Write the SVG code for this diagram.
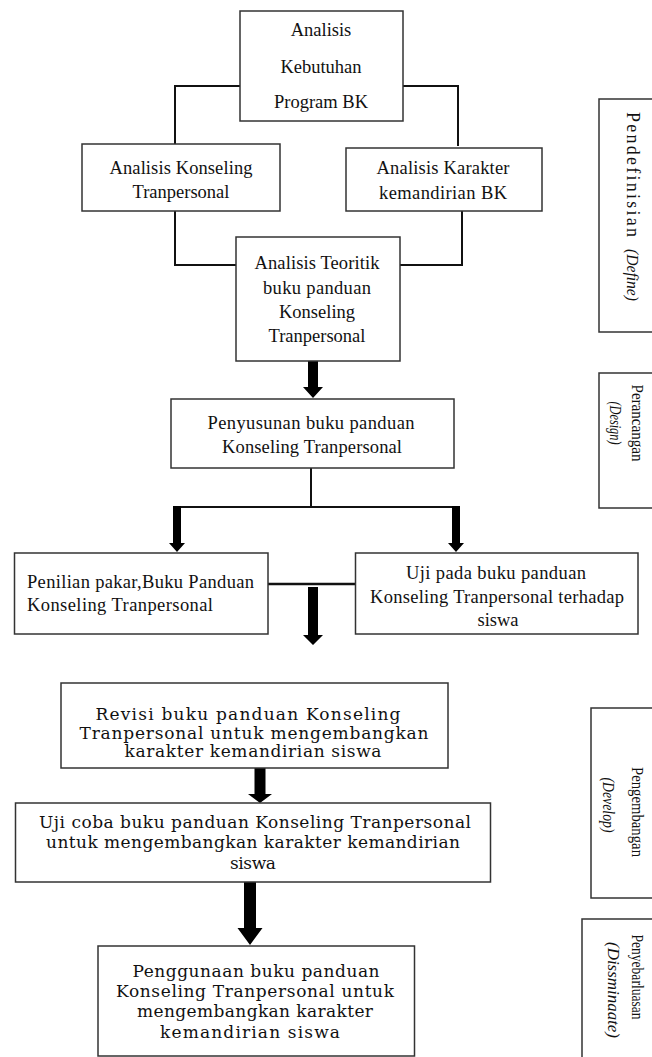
<svg xmlns="http://www.w3.org/2000/svg" width="652" height="1057" viewBox="0 0 652 1057">
<style>
.box{fill:#fff;stroke:#333;stroke-width:1.5}
.ln{fill:none;stroke:#111;stroke-width:2}
.ar{fill:#000;stroke:none}
.t{font-size:18.5px;text-anchor:middle}
.tl{font-size:18.5px}
.t2{font-size:17px;text-anchor:middle}
.s{font-size:17px;text-anchor:middle}
.i{font-style:italic}
</style>
<rect width="652" height="1057" fill="#fff"/>
<g id="connectors">
<polyline class="ln" points="240,86 175,86 175,144"/>
<polyline class="ln" points="403,86 458,86 458,146"/>
<polyline class="ln" points="175,211 175,265 236,265"/>
<polyline class="ln" points="462,211 462,265 400,265"/>
<polyline class="ln" points="311,468 311,507"/>
<polyline class="ln" points="174,507 458,507"/>
<line class="ln" x1="268" y1="584" x2="355" y2="584" style="stroke-width:2.6"/>
<polygon class="ar" points="308,361 318,361 318,387 323,387 313,398 303,387 308,387"/>
<polygon class="ar" points="173,506 181,506 181,543 185,543 177,552 169,543 173,543"/>
<polygon class="ar" points="452,506 460,506 460,543 464,543 456,552 448,543 452,543"/>
<polygon class="ar" points="308,587 318,587 318,635 323,635 313,645 303,635 308,635"/>
<polygon class="ar" points="254.5,768 265.5,768 265.5,794 272,794 260,803 248,794 254.5,794"/>
<polygon class="ar" points="244,882 256,882 256,928 262.5,928 250,945 237.5,928 244,928"/>
</g>
<g font-family="Liberation Serif, serif" fill="#111">
<g id="n-kebutuhan">
<rect class="box" x="240" y="11" width="163" height="110"/>
<text class="t" x="321" y="36">Analisis</text>
<text class="t" x="321" y="73">Kebutuhan</text>
<text class="t" x="321" y="108">Program BK</text>
</g>
<g id="n-konseling">
<rect class="box" x="82" y="144" width="198" height="67"/>
<text class="t" x="181" y="174" textLength="143">Analisis Konseling</text>
<text class="t" x="181" y="198">Tranpersonal</text>
</g>
<g id="n-karakter">
<rect class="box" x="346" y="148" width="196" height="63"/>
<text class="t" x="443" y="174" textLength="133">Analisis Karakter</text>
<text class="t" x="443" y="199" textLength="128">kemandirian BK</text>
</g>
<g id="n-teoritik">
<rect class="box" x="236" y="237" width="164" height="124"/>
<text class="t" x="317" y="269" textLength="125">Analisis Teoritik</text>
<text class="t" x="317" y="294" textLength="108">buku panduan</text>
<text class="t" x="317" y="318">Konseling</text>
<text class="t" x="317" y="342">Tranpersonal</text>
</g>
<g id="n-penyusunan">
<rect class="box" x="171" y="399" width="283" height="69"/>
<text class="t" x="311" y="429" textLength="207">Penyusunan buku panduan</text>
<text class="t" x="312" y="453" textLength="180">Konseling Tranpersonal</text>
</g>
<g id="n-penilian">
<rect class="box" x="14.5" y="553" width="253.5" height="81"/>
<text class="tl" x="27" y="588" textLength="227">Penilian pakar,Buku  Panduan</text>
<text class="tl" x="27" y="611" textLength="186">Konseling  Tranpersonal</text>
</g>
<g id="n-ujipada">
<rect class="box" x="355.5" y="553" width="282.5" height="81"/>
<text class="t" x="496" y="579" textLength="180">Uji pada buku panduan</text>
<text class="t" x="497" y="603" textLength="254">Konseling Tranpersonal  terhadap</text>
<text class="t" x="498" y="626">siswa</text>
</g>
<g id="p-define">
<rect class="box" x="599" y="99" width="70" height="233"/>
<text class="s" style="font-size:18px;text-anchor:start" transform="translate(627,112) rotate(90)" textLength="125">Pendefinisian</text>
<text class="s i" style="font-size:17px;text-anchor:start" transform="translate(627,249) rotate(90)" textLength="52" lengthAdjust="spacingAndGlyphs">(Define)</text>
</g>
<g id="p-design">
<rect class="box" x="599" y="373" width="70" height="135"/>
<text class="s" transform="translate(632,423) rotate(90)" textLength="77" lengthAdjust="spacingAndGlyphs">Perancangan</text>
<text class="s i" transform="translate(610,423) rotate(90)" textLength="43" lengthAdjust="spacingAndGlyphs">(Design)</text>
</g>
<g id="p-develop">
<rect class="box" x="591" y="708" width="78" height="190"/>
<text class="s" transform="translate(632,812) rotate(90)" textLength="90" lengthAdjust="spacingAndGlyphs">Pengembangan</text>
<text class="s i" transform="translate(603,805) rotate(90)" textLength="55" lengthAdjust="spacingAndGlyphs">(Develop)</text>
</g>
<g id="p-disseminate">
<rect class="box" x="582" y="919" width="87" height="150"/>
<text class="s" transform="translate(632,977) rotate(90)" textLength="85" lengthAdjust="spacingAndGlyphs">Penyebarluasan</text>
<text class="s i" transform="translate(608,990) rotate(90)" textLength="96" lengthAdjust="spacingAndGlyphs">(Dissminaate)</text>
</g>
</g>
<g font-family="DejaVu Serif, serif" fill="#111">
<g id="n-revisi">
<rect class="box" x="61" y="683" width="387" height="85"/>
<text class="t2" x="248" y="720" textLength="305">Revisi buku panduan Konseling</text>
<text class="t2" x="254" y="739" textLength="349">Tranpersonal untuk mengembangkan</text>
<text class="t2" x="253" y="757" textLength="257">karakter kemandirian  siswa</text>
</g>
<g id="n-ujicoba">
<rect class="box" x="15.5" y="803" width="475" height="79"/>
<text class="t2" x="255" y="828" textLength="432">Uji coba buku panduan Konseling Tranpersonal</text>
<text class="t2" x="253" y="848" textLength="414">untuk mengembangkan karakter kemandirian</text>
<text class="t2" x="253" y="869" textLength="46">siswa</text>
</g>
<g id="n-penggunaan">
<rect class="box" x="98" y="946" width="316.5" height="110"/>
<text class="t2" x="256" y="977" textLength="247">Penggunaan buku panduan</text>
<text class="t2" x="255" y="997" textLength="278">Konseling Tranpersonal  untuk</text>
<text class="t2" x="255" y="1017" textLength="236">mengembangkan karakter</text>
<text class="t2" x="250" y="1038" textLength="180">kemandirian siswa</text>
</g>
</g>
</svg>
